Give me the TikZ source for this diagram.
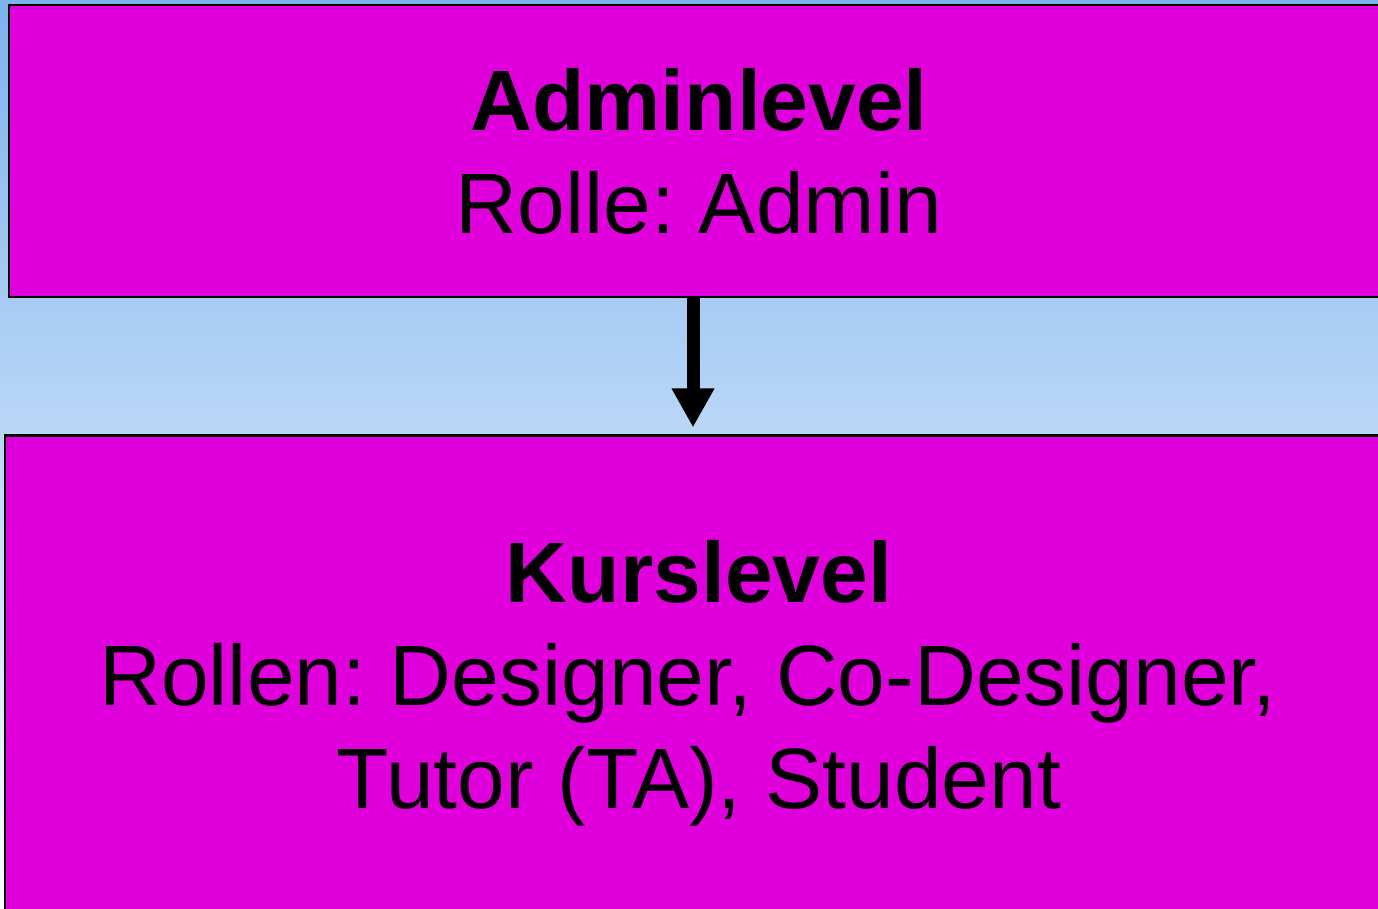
\documentclass[tikz,border=0pt]{standalone}
\usepackage{fontspec}
\setmainfont{Liberation Sans}
\usepackage{tikz}
\usetikzlibrary{arrows.meta,positioning}

\definecolor{boxfill}{RGB}{224,0,220}
\definecolor{skytop}{RGB}{124,178,238}
\definecolor{skybot}{RGB}{255,255,255}
\frenchspacing

\begin{document}
\begin{tikzpicture}[>={Triangle[width=0.4cm,length=0.39cm]},node distance=1.36cm,
    level/.style={draw=black,line width=0.8pt,fill=boxfill,align=center,
      font=\fontsize{24.4pt}{29.3pt}\selectfont,inner sep=0pt}]
    \useasboundingbox (0,0) rectangle (13.78,-9.08);
    \clip (0,0) rectangle (13.78,-9.08);
    \shade[top color=skytop,bottom color=skybot] (0,0) rectangle (13.78,-9.08);

    \node[level, minimum width=13.80cm, minimum height=2.92cm] (admin) at (6.99,-1.51)
      {\textbf{Adminlevel}\\Rolle: Admin};
    \node[level, minimum width=13.88cm, minimum height=4.94cm] [below=of admin] (kurs)
      {\textbf{Kurslevel}\\Rollen: Designer, Co-Designer,\rule{0.22cm}{0pt}\\Tutor (TA), Student};

    \draw[->, line width=0.13cm, shorten >=0.07cm]
      ([xshift=-0.06cm]admin.south) -- ([xshift=-0.06cm]kurs.north);
\end{tikzpicture}
\end{document}
